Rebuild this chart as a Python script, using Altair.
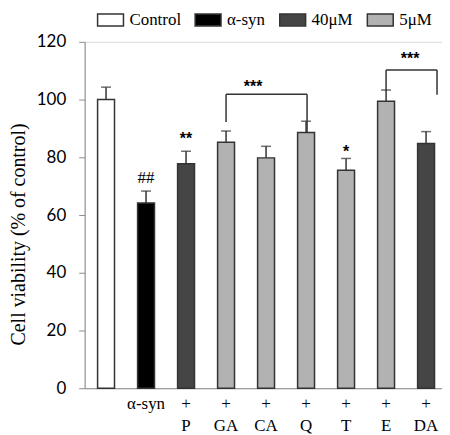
import altair as alt
import pandas as pd

# ---- data ----
labels = ["Control", "α-syn", "P", "GA", "CA", "Q", "T", "E", "DA"]
groups = ["Control", "α-syn", "40μM", "5μM", "5μM", "5μM", "5μM", "5μM", "40μM"]
values = [100.0, 64.2, 77.8, 85.2, 79.8, 88.6, 75.5, 99.4, 84.8]
errors = [4.3, 4.1, 4.3, 3.9, 4.0, 3.9, 4.1, 3.9, 4.1]

legend_order = ["Control", "α-syn", "40μM", "5μM"]
legend_colors = ["#ffffff", "#000000", "#454545", "#b2b2b2"]

sig_labels = ["α-syn", "P", "T"]
sig_texts = ["##", "**", "*"]
sig_y = [72.8, 86.4, 81.9]

bracket_left = ["GA", "E"]
bracket_right = ["Q", "DA"]
bracket_top = [101.8, 110.2]
bracket_left_end = [92.2, 103.1]
bracket_right_end = [88.7, 101.7]
bracket_star_at = ["CA", "DA"]
bracket_star_y = [104.3, 114.1]
bracket_star_dx = [-13, -16]
bracket_right_dx = [1, 11]

y_ticks = [0, 20, 40, 60, 80, 100, 120]

df = pd.DataFrame({"label": labels, "group": groups, "value": values, "err": errors})
df["upper"] = df["value"] + df["err"]

sig_df = pd.DataFrame({"label": sig_labels, "text": sig_texts, "y": sig_y})

x_scale = alt.Scale(domain=labels, paddingInner=0.577, paddingOuter=0.255, align=0.634)
y_scale = alt.Scale(domain=[0, 120], nice=False)

AX = "#8c8c8c"
DK = "#333333"

x_enc = alt.X(
    "label:N",
    scale=x_scale,
    sort=labels,
    axis=alt.Axis(
        title=None,
        ticks=False,
        domainColor=AX,
        domainWidth=1,
        labelAngle=0,
        labelFont="Liberation Serif",
        labelFontSize=17,
        labelColor="#000000",
        labelPadding=7,
        labelBaseline="top",
        labelLineHeight=22,
        labelOverlap=False,
        labelExpr="datum.value == 'Control' ? '' : (datum.value == 'α-syn' ? 'α-syn' : ['+', datum.value])",
    ),
)

y_enc = alt.Y(
    "value:Q",
    scale=y_scale,
    axis=alt.Axis(
        values=y_ticks,
        grid=False,
        title="Cell viability (% of control)",
        titleFont="Liberation Serif",
        titleFontSize=20,
        titleFontWeight="normal",
        titleColor="#000000",
        titleAngle=270,
        titleAlign="center",
        titleBaseline="middle",
        titleX=-66,
        titleY=193,
        labelFont="Lato",
        labelFontSize=17,
        labelColor="#000000",
        labelPadding=13,
        tickSize=6,
        tickColor=AX,
        domainColor=AX,
    ),
)

bars = alt.Chart(df).mark_bar(stroke=DK, strokeWidth=1.5).encode(
    x=x_enc,
    y=y_enc,
    color=alt.Color(
        "group:N",
        scale=alt.Scale(domain=legend_order, range=legend_colors),
        legend=alt.Legend(
            title=None,
            orient="none",
            legendX=12,
            legendY=-36,
            direction="horizontal",
            symbolType="M-1,-0.46H1V0.46H-1Z",
            symbolSize=676,
            symbolStrokeColor=DK,
            symbolStrokeWidth=1.5,
            labelFont="Liberation Serif",
            labelFontSize=17,
            labelColor="#000000",
            labelOffset=5,
            columnPadding=11,
            padding=0,
        ),
    ),
)

err_rule = alt.Chart(df).mark_rule(color=DK, strokeWidth=1.5).encode(
    x=alt.X("label:N", scale=x_scale, sort=labels),
    y=alt.Y("value:Q", scale=y_scale),
    y2="upper:Q",
)
err_cap = alt.Chart(df).mark_tick(color=DK, thickness=1.5, size=10).encode(
    x=alt.X("label:N", scale=x_scale, sort=labels),
    y=alt.Y("upper:Q", scale=y_scale),
)

sig_hash = alt.Chart(sig_df[sig_df["text"] == "##"]).mark_text(
    font="Liberation Serif", fontSize=17, color="#000000", baseline="middle"
).encode(
    x=alt.X("label:N", scale=x_scale, sort=labels),
    y=alt.Y("y:Q", scale=y_scale),
    text="text:N",
)
sig_star = alt.Chart(sig_df[sig_df["text"] != "##"]).mark_text(
    font="Liberation Sans", fontSize=16, fontWeight="bold", color="#000000", baseline="middle"
).encode(
    x=alt.X("label:N", scale=x_scale, sort=labels),
    y=alt.Y("y:Q", scale=y_scale),
    text="text:N",
)

layers = [bars, err_rule, err_cap, sig_hash, sig_star]

for i in range(len(bracket_left)):
    bdf = pd.DataFrame({
        "l": [bracket_left[i]],
        "r": [bracket_right[i]],
        "top": [bracket_top[i]],
        "lend": [bracket_left_end[i]],
        "rend": [bracket_right_end[i]],
        "s": [bracket_star_at[i]],
        "sy": [bracket_star_y[i]],
        "txt": ["***"],
    })
    rdx = bracket_right_dx[i]
    horiz = alt.Chart(bdf).mark_rule(color=DK, strokeWidth=1.5, x2Offset=rdx).encode(
        x=alt.X("l:N", scale=x_scale, sort=labels),
        x2="r:N",
        y=alt.Y("top:Q", scale=y_scale),
    )
    lleg = alt.Chart(bdf).mark_rule(color=DK, strokeWidth=1.5).encode(
        x=alt.X("l:N", scale=x_scale, sort=labels),
        y=alt.Y("top:Q", scale=y_scale),
        y2="lend:Q",
    )
    rleg = alt.Chart(bdf).mark_rule(color=DK, strokeWidth=1.5, xOffset=rdx).encode(
        x=alt.X("r:N", scale=x_scale, sort=labels),
        y=alt.Y("top:Q", scale=y_scale),
        y2="rend:Q",
    )
    star = alt.Chart(bdf).mark_text(
        font="Liberation Sans", fontSize=16, fontWeight="bold", color="#000000",
        baseline="middle", dx=bracket_star_dx[i],
    ).encode(
        x=alt.X("s:N", scale=x_scale, sort=labels),
        y=alt.Y("sy:Q", scale=y_scale),
        text="txt:N",
    )
    layers += [horiz, lleg, rleg, star]

chart = alt.layer(*layers).properties(
    width=359,
    height=348,
    autosize=alt.AutoSizeParams(type="none"),
    padding={"left": 77, "top": 33, "right": 0, "bottom": 46},
).configure_view(stroke="#d9d9d9")

chart.save("out.html", embed_options={"renderer": "svg", "actions": False})
